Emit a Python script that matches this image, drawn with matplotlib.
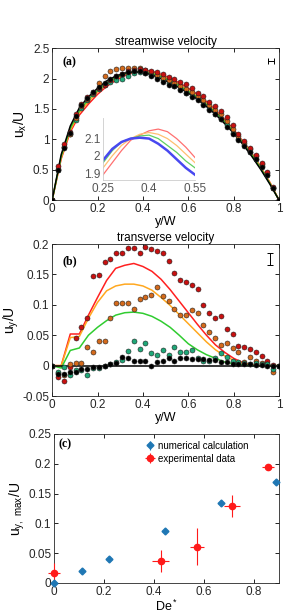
import matplotlib as mpl
import matplotlib.pyplot as plt
import numpy as np

mpl.rcParams["font.family"] = "Liberation Sans"
mpl.rcParams["mathtext.fontset"] = "custom"
mpl.rcParams["mathtext.rm"] = "Liberation Sans"
mpl.rcParams["mathtext.default"] = "regular"
mpl.rcParams["font.size"] = 8

# measurement positions (y/W)
y_pos = [0.0, 0.026, 0.051, 0.077, 0.103, 0.128, 0.154, 0.179, 0.205, 0.231,
         0.256, 0.282, 0.308, 0.333, 0.359, 0.385, 0.410, 0.436, 0.462, 0.487,
         0.513, 0.538, 0.564, 0.590, 0.615, 0.641, 0.667, 0.692, 0.718, 0.744,
         0.769, 0.795, 0.821, 0.846, 0.872, 0.897, 0.923, 0.949, 0.974, 1.0]

# (a) streamwise velocity, experiment
ux_red = [0, 0.57, 0.92, 1.12, 1.42, 1.58, 1.70, 1.78, 1.84, 1.90,
          1.97, 2.05, 2.08, 2.12, 2.14, 2.15, 2.14, 2.12, 2.10, 2.07,
          2.03, 1.99, 1.95, 1.91, 1.84, 1.77, 1.72, 1.62, 1.55, 1.46,
          1.36, 1.23, 1.09, 0.97, 0.86, 0.75, 0.61, 0.47, 0.21, 0]
ux_orange = [0, 0.52, 0.88, 1.08, 1.35, 1.55, 1.67, 1.77, 1.93, 2.04,
             2.12, 2.15, 2.17, 2.18, 2.18, 2.17, 2.14, 2.10, 2.06, 2.01,
             1.97, 1.93, 1.88, 1.83, 1.78, 1.72, 1.65, 1.56, 1.49, 1.41,
             1.30, 1.17, 1.05, 0.94, 0.84, 0.72, 0.59, 0.44, 0.20, 0]
ux_green = [0, 0.50, 0.87, 1.08, 1.32, 1.52, 1.65, 1.75, 1.82, 1.89,
            1.94, 1.97, 2.00, 2.05, 2.09, 2.10, 2.09, 2.06, 2.02, 1.98,
            1.93, 1.88, 1.83, 1.77, 1.71, 1.66, 1.58, 1.50, 1.42, 1.34,
            1.23, 1.10, 1.00, 0.90, 0.80, 0.68, 0.56, 0.42, 0.20, 0]
ux_black = [0, 0.50, 0.86, 1.10, 1.38, 1.56, 1.68, 1.78, 1.86, 1.93,
            1.99, 2.04, 2.08, 2.11, 2.12, 2.12, 2.09, 2.04, 1.99, 1.95,
            1.90, 1.87, 1.81, 1.76, 1.70, 1.65, 1.57, 1.48, 1.41, 1.33,
            1.21, 1.09, 0.99, 0.89, 0.79, 0.67, 0.55, 0.41, 0.20, 0]

# simulation grid
y_sim = [0, 0.04, 0.08, 0.12, 0.16, 0.2, 0.24, 0.28, 0.32, 0.36, 0.4, 0.44, 0.48,
         0.52, 0.56, 0.6, 0.64, 0.68, 0.72, 0.76, 0.8, 0.84, 0.88, 0.92, 0.96, 1.0]

ux_sim_black = [0, 0.75, 1.22, 1.52, 1.70, 1.84, 1.96, 2.04, 2.09, 2.11, 2.10, 2.06, 2.00,
                1.93, 1.85, 1.76, 1.66, 1.54, 1.41, 1.26, 1.10, 0.92, 0.72, 0.50, 0.26, 0]
ux_sim_green = [0, 0.72, 1.18, 1.47, 1.66, 1.81, 1.93, 2.02, 2.08, 2.11, 2.11, 2.08, 2.03,
                1.96, 1.88, 1.79, 1.69, 1.57, 1.44, 1.29, 1.12, 0.94, 0.74, 0.52, 0.27, 0]
ux_sim_orange = [0, 0.70, 1.15, 1.44, 1.62, 1.78, 1.90, 2.00, 2.07, 2.11, 2.12, 2.10, 2.05,
                 1.98, 1.90, 1.81, 1.71, 1.59, 1.46, 1.31, 1.14, 0.96, 0.76, 0.53, 0.28, 0]
ux_sim_red = [0, 0.68, 1.12, 1.40, 1.58, 1.74, 1.87, 1.97, 2.05, 2.10, 2.13, 2.12, 2.07,
              2.01, 1.93, 1.84, 1.74, 1.62, 1.48, 1.33, 1.16, 0.97, 0.77, 0.54, 0.29, 0]

# inset (zoom near the maximum)
y_inset = [0.25, 0.28, 0.31, 0.34, 0.37, 0.40, 0.43, 0.46, 0.49, 0.52, 0.55]
inset_blue = [1.975, 2.04, 2.08, 2.10, 2.105, 2.10, 2.07, 2.03, 1.98, 1.93, 1.89]
inset_green = [1.96, 2.03, 2.08, 2.10, 2.115, 2.12, 2.10, 2.06, 2.02, 1.97, 1.93]
inset_orange = [1.93, 2.00, 2.06, 2.10, 2.125, 2.135, 2.125, 2.10, 2.06, 2.01, 1.96]
inset_red = [1.89, 1.96, 2.03, 2.09, 2.12, 2.145, 2.155, 2.14, 2.10, 2.05, 1.99]

# (b) transverse velocity, experiment
uy_red = [0, -0.018, -0.026, -0.003, 0.046, 0.063, 0.079, 0.148, 0.149, 0.171,
          0.176, 0.185, 0.185, 0.193, 0.193, 0.185, 0.195, 0.191, 0.188, 0.186,
          0.172, 0.152, 0.141, 0.137, 0.132, 0.126, 0.100, 0.086, 0.078, 0.082,
          0.060, 0.052, 0.032, 0.031, 0.027, 0.023, 0.016, 0.007, 0.001, 0]
uy_orange = [0, -0.012, -0.015, 0.003, 0.005, 0.005, 0.030, 0.023, 0.041, 0.041,
             0.078, 0.103, 0.103, 0.103, 0.093, 0.109, 0.113, 0.116, 0.130, 0.115,
             0.107, 0.093, 0.083, 0.083, 0.092, 0.086, 0.067, 0.056, 0.046, 0.034,
             0.038, 0.029, 0.022, 0.006, 0.014, 0.008, 0.005, 0.003, -0.011, 0]
uy_green = [0, -0.010, -0.003, -0.015, -0.007, -0.007, -0.015, -0.004, -0.004, 0.0,
            0.003, 0.006, 0.010, 0.024, 0.040, 0.027, 0.038, 0.020, 0.018, 0.026,
            0.018, 0.031, 0.023, 0.022, 0.026, 0.012, 0.008, 0.008, 0.012, 0.020,
            0.015, 0.008, 0.006, 0.004, 0.003, 0.005, 0.003, 0.002, -0.006, 0]
uy_black = [0, -0.013, -0.013, -0.010, -0.010, -0.006, -0.005, -0.003, -0.002, 0.0,
            0.002, 0.005, 0.015, 0.012, 0.008, 0.008, 0.007, 0.0, 0.006, 0.008,
            0.012, 0.008, 0.012, 0.012, 0.011, 0.011, 0.011, 0.009, 0.009, 0.006,
            0.006, 0.003, 0.003, 0.002, 0.003, 0.001, 0.001, 0.0, 0.0, 0]

uy_sim_red = [0, 0.0, 0.052, 0.052, 0.083, 0.112, 0.140, 0.160, 0.165, 0.168, 0.163, 0.155, 0.142,
              0.125, 0.106, 0.087, 0.068, 0.050, 0.034, 0.022, 0.012, 0.005, 0.001, 0, 0, 0]
uy_sim_orange = [0, 0.0, 0.046, 0.048, 0.078, 0.104, 0.123, 0.131, 0.134, 0.134, 0.131, 0.124, 0.112,
                 0.099, 0.084, 0.069, 0.054, 0.039, 0.026, 0.016, 0.009, 0.004, 0.001, 0, 0, 0]
uy_sim_green = [0, -0.004, 0.025, 0.029, 0.050, 0.063, 0.074, 0.083, 0.087, 0.088, 0.086, 0.081, 0.073,
                0.063, 0.050, 0.036, 0.026, 0.018, 0.012, 0.006, 0.003, 0.001, 0, 0, 0, 0]
uy_sim_black = [0] * 26

# (c) maximum transverse velocity vs De*
de_num = [0, 0.111, 0.222, 0.444, 0.667, 0.889]
uymax_num = [0.0, 0.020, 0.041, 0.087, 0.134, 0.169]
uymax_num_err = [0.005, 0.005, 0.005, 0.005, 0.005, 0.005]

de_exp = [0.0, 0.428, 0.573, 0.712, 0.857]
de_exp_err = [0.024, 0.034, 0.027, 0.032, 0.025]
uymax_exp = [0.016, 0.037, 0.061, 0.129, 0.194]
uymax_exp_err = [0.017, 0.019, 0.031, 0.018, 0.004]

c_red = "#c81010"
c_orange = "#d46a1c"
c_green = "#1fa878"
l_red = "#ff2020"
l_orange = "#ffa820"
l_green = "#30cc30"


def style_axes(ax):
    ax.tick_params(direction="in", top=True, right=True, length=3, width=0.6,
                   labelsize=8.5, pad=2, labelcolor="#262626")
    for s in ax.spines.values():
        s.set_linewidth(0.6)
        s.set_color("#262626")


def draw_markers(ax, x, series):
    for ys, fc in series:
        ax.plot(x, ys, "o", ms=3.6, mfc=fc, mec="#222222", mew=0.4, zorder=3)


fig = plt.figure(figsize=(2.88, 6.14), dpi=100)

# ---------------- (a)
ax1 = fig.add_axes([0.181, 0.674, 0.788, 0.2476])
ax1.plot(y_sim, ux_sim_red, color=l_red, lw=1.1, zorder=2)
ax1.plot(y_sim, ux_sim_orange, color=l_orange, lw=1.1, zorder=2)
ax1.plot(y_sim, ux_sim_green, color=l_green, lw=1.1, zorder=2)
ax1.plot(y_sim, ux_sim_black, color="black", lw=1.1, zorder=2)
draw_markers(ax1, y_pos, [(ux_green, c_green), (ux_orange, c_orange),
                          (ux_red, c_red), (ux_black, "black")])
ax1.errorbar([0.964], [2.29], xerr=[0.013], fmt="none", ecolor="black",
             elinewidth=0.7, capsize=2, capthick=0.7)
ax1.set_xlim(0, 1)
ax1.set_ylim(0, 2.5)
ax1.set_xticks([0, 0.2, 0.4, 0.6, 0.8, 1])
ax1.set_xticklabels(["0", "0.2", "0.4", "0.6", "0.8", "1"])
ax1.set_yticks([0, 0.5, 1, 1.5, 2, 2.5])
ax1.set_yticklabels(["0", "0.5", "1", "1.5", "2", "2.5"])
ax1.set_xlabel("y/W", labelpad=1, fontsize=9)
ax1.set_ylabel("$u_x$/U", labelpad=3, fontsize=10)
ax1.set_title("streamwise velocity", fontsize=8.5, pad=2)
ax1.text(0.045, 2.27, "(a)", family="Liberation Serif", weight="bold",
         fontsize=8.5, va="center")
style_axes(ax1)

# inset
axi = fig.add_axes([0.358, 0.707, 0.319, 0.101])
axi.plot(y_inset, inset_red, color="#ff7070", lw=0.9)
axi.plot(y_inset, inset_orange, color="#ffc070", lw=0.9)
axi.plot(y_inset, inset_green, color="#60d060", lw=0.9)
axi.plot(y_inset, inset_blue, color="#4848f0", lw=1.8)
axi.set_xlim(0.25, 0.55)
axi.set_ylim(1.86, 2.22)
axi.set_xticks([0.25, 0.4, 0.55])
axi.set_xticklabels(["0.25", "0.4", "0.55"])
axi.set_yticks([1.9, 2.0, 2.1])
axi.set_yticklabels(["1.9", "2", "2.1"])
axi.patch.set_alpha(0)
for side in ["top", "right"]:
    axi.spines[side].set_visible(False)
for side in ["left", "bottom"]:
    axi.spines[side].set_color("#cccccc")
    axi.spines[side].set_linewidth(0.6)
axi.tick_params(length=0, labelsize=8.5, labelcolor="#555555", pad=2)

# ---------------- (b)
ax2 = fig.add_axes([0.181, 0.355, 0.788, 0.2476])
ax2.plot(y_sim, uy_sim_red, color=l_red, lw=1.1, zorder=2)
ax2.plot(y_sim, uy_sim_orange, color=l_orange, lw=1.1, zorder=2)
ax2.plot(y_sim, uy_sim_green, color=l_green, lw=1.1, zorder=2)
ax2.plot(y_sim, uy_sim_black, color="black", lw=1.1, zorder=2)
draw_markers(ax2, y_pos, [(uy_red, c_red), (uy_orange, c_orange),
                          (uy_green, c_green), (uy_black, "black")])
ax2.errorbar([0.96], [0.175], yerr=[0.01], fmt="none", ecolor="black",
             elinewidth=0.7, capsize=2.5, capthick=0.7)
ax2.set_xlim(0, 1)
ax2.set_ylim(-0.05, 0.2)
ax2.set_xticks([0, 0.2, 0.4, 0.6, 0.8, 1])
ax2.set_xticklabels(["0", "0.2", "0.4", "0.6", "0.8", "1"])
ax2.set_yticks([-0.05, 0, 0.05, 0.1, 0.15, 0.2])
ax2.set_yticklabels(["-0.05", "0", "0.05", "0.1", "0.15", "0.2"])
ax2.set_xlabel("y/W", labelpad=1, fontsize=9)
ax2.set_ylabel("$u_y$/U", labelpad=1, fontsize=10)
ax2.set_title("transverse velocity", fontsize=8.5, pad=2)
ax2.text(0.045, 0.172, "(b)", family="Liberation Serif", weight="bold",
         fontsize=8.5, va="center")
style_axes(ax2)

# ---------------- (c)
ax3 = fig.add_axes([0.1875, 0.0505, 0.781, 0.2427])
ax3.errorbar(de_num, uymax_num, yerr=uymax_num_err, fmt="D", ms=3.5,
             color="#1f77b4", mec="#1f77b4", elinewidth=0.8, capsize=0,
             label="numerical calculation", zorder=3, clip_on=False)
ax3.errorbar(de_exp, uymax_exp, xerr=de_exp_err, yerr=uymax_exp_err, fmt="o",
             ms=4.5, color="#ff1a1a", mec="#ff1a1a", elinewidth=0.8, capsize=0,
             label="experimental data", zorder=3, clip_on=False)
ax3.set_xlim(0, 0.9)
ax3.set_ylim(0, 0.25)
ax3.set_xticks([0, 0.2, 0.4, 0.6, 0.8])
ax3.set_xticklabels(["0", "0.2", "0.4", "0.6", "0.8"])
ax3.set_yticks([0, 0.05, 0.1, 0.15, 0.2, 0.25])
ax3.set_yticklabels(["0", "0.05", "0.1", "0.15", "0.2", "0.25"])
ax3.set_xlabel("De$^*$", labelpad=1, fontsize=9)
ax3.set_ylabel("$u_{y,\\ max}$/U", labelpad=1, fontsize=10)
ax3.text(0.02, 0.232, "(c)", family="Liberation Serif", weight="bold",
         fontsize=8.5, va="center")
ax3.legend(loc="upper left", bbox_to_anchor=(0.38, 1.0), frameon=False,
           fontsize=7, handlelength=0.8, handletextpad=0.4, labelspacing=0.3,
           borderaxespad=0.3)
style_axes(ax3)

plt.savefig("out.png", dpi=100)
